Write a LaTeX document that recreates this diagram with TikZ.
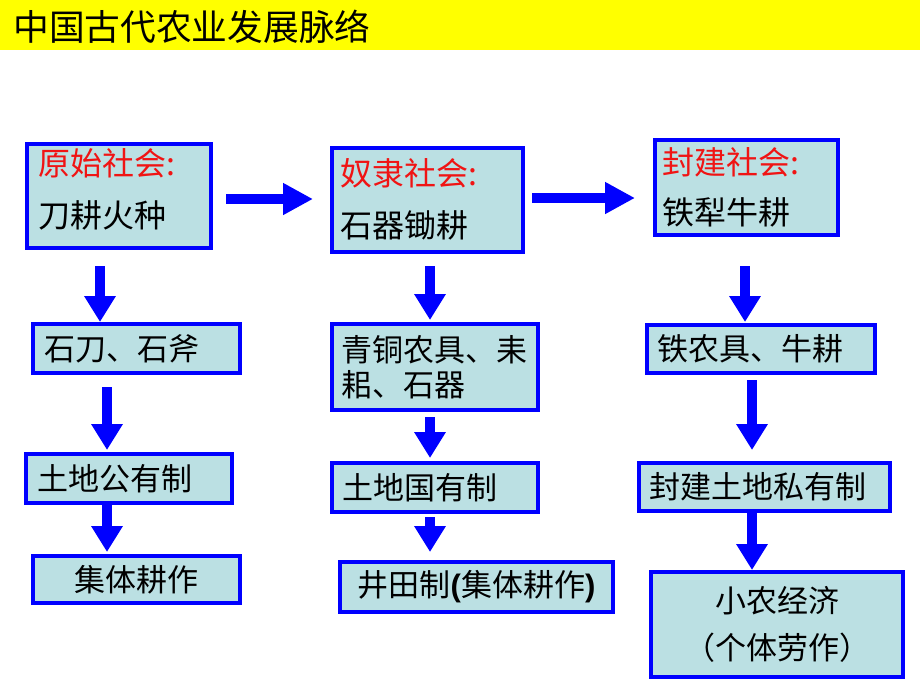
\documentclass[tikz,border=0pt]{standalone}
\usepackage{fontspec}
\setmainfont{Noto Sans CJK SC}
\newfontfamily\lat{Liberation Sans}
\usetikzlibrary{arrows.meta}
\definecolor{bblue}{RGB}{0,0,255}
\definecolor{bfill}{RGB}{187,224,227}
\definecolor{tred}{RGB}{240,20,20}
\definecolor{tyellow}{RGB}{255,255,0}
\tikzset{
  box/.style={draw=bblue, line width=3pt, fill=bfill, rectangle, anchor=north west,
    inner ysep=0pt, align=left, font=\fontsize{23.25pt}{28pt}\selectfont},
  topbox/.style={draw=bblue, line width=3pt, fill=bfill, rectangle, anchor=north west, inner sep=0pt},
  toptext/.style={anchor=west, inner sep=0pt, align=left, font=\fontsize{24pt}{39pt}\selectfont},
  cbox/.style={box, align=center},
  harrow/.style={draw=bblue, line width=7.5pt, -{Triangle[width=22.5pt,length=22.5pt]}},
  varrow/.style={draw=bblue, line width=7.5pt, -{Triangle[width=22.5pt,length=19.5pt]}},
  titletext/.style={anchor=west, inner sep=0pt, font=\fontsize{26.8pt}{30pt}\selectfont}
}
\begin{document}
\begin{tikzpicture}[x=0.75pt,y=-0.75pt]
\useasboundingbox (0,0) rectangle (920,690);
\fill[white] (0,0) rectangle (920,690);
\fill[tyellow] (0,0) rectangle (920,50);
\node[titletext] (title) at (13,27) {中国古代农业发展脉络};

% top row
\node[topbox, minimum width=138pt, minimum height=78pt] (b1) at (25,142) {};
\node[toptext] (b1t) at (38,189) {{\color{tred}原始社会:}\\刀耕火种};
\node[topbox, minimum width=143.25pt, minimum height=78pt] (b2) at (330,146) {};
\node[toptext] (b2t) at (340,199) {{\color{tred}奴隶社会:}\\石器锄耕};
\node[topbox, minimum width=137.25pt, minimum height=71.25pt] (b3) at (653,138) {};
\node[toptext, font=\fontsize{24pt}{37.5pt}\selectfont] (b3t) at (662,187) {{\color{tred}封建社会:}\\铁犁牛耕};

% column 1
\node[box, minimum width=155.25pt, minimum height=36.75pt, text width=138.75pt, inner xsep=8.25pt] (c1) at (31,322) {石刀、石斧};
\node[box, minimum width=154.5pt, minimum height=36.75pt, text width=138pt, inner xsep=8.25pt] (c2) at (24,452) {土地公有制};
\node[cbox, minimum width=155.25pt, minimum height=35.25pt, text width=138.75pt, inner xsep=8.25pt] (c3) at (31,554) {集体耕作};

% column 2
\node[box, font=\fontsize{23.25pt}{26.25pt}\selectfont, minimum width=154.5pt, minimum height=64.5pt, text width=140.5pt, inner xsep=7pt] (d1) at (330,322) {青铜农具、耒\\耜、石器};
\node[box, minimum width=154.5pt, minimum height=36.75pt, text width=139.5pt, inner xsep=7.5pt] (d2) at (330,461) {土地国有制};
\node[cbox, minimum width=204.75pt, minimum height=37.5pt, text width=189.75pt, inner xsep=7.5pt] (d3) at (338,560) {井田制{\lat\bfseries (}集体耕作{\lat\bfseries )}};

% column 3
\node[box, minimum width=171pt, minimum height=36pt, text width=156pt, inner xsep=7.5pt] (e1) at (645,323) {铁农具、牛耕};
\node[box, minimum width=188.25pt, minimum height=36pt, text width=173.25pt, inner xsep=7.5pt] (e2) at (637,461) {封建土地私有制};
\node[cbox, font=\fontsize{23.25pt}{35.25pt}\selectfont, minimum width=189pt, minimum height=78.75pt, text width=174pt, inner xsep=7.5pt] (e3) at (649,570) {小农经济\\（个体劳作）};

% connector guides
\coordinate (h1) at (0,199);
\coordinate (h2) at (0,198);
\coordinate (v1) at (100,0);
\coordinate (v1b) at (107,0);
\coordinate (v2) at (430,0);
\coordinate (v3) at (745,0);
\coordinate (v3b) at (752,0);

% horizontal arrows
\draw[harrow, shorten <=9.75pt, shorten >=12.75pt] (b1.east |- h1) -- (b2.west |- h1);
\draw[harrow, shorten <=5.25pt, shorten >=13.5pt] (b2.east |- h2) -- (b3.west |- h2);

% vertical arrows
\draw[varrow, shorten <=12pt] (b1.south -| v1) -- (c1.north -| v1);
\draw[varrow, shorten <=9pt, shorten >=1.5pt] (c1.south -| v1b) -- (c2.north -| v1b);
\draw[varrow, shorten <=-2.25pt, shorten >=1.5pt] (c2.south -| v1b) -- (c3.north -| v1b);

\draw[varrow, shorten <=9pt, shorten >=1.5pt] (b2.south -| v2) -- (d1.north -| v2);
\draw[varrow, shorten <=3.75pt, shorten >=2.25pt] (d1.south -| v2) -- (d2.north -| v2);
\draw[varrow, shorten <=2.25pt, shorten >=6pt] (d2.south -| v2) -- (d3.north -| v2);

\draw[varrow, shorten <=21.75pt, shorten >=0.75pt] (b3.south -| v3) -- (e1.north -| v3);
\draw[varrow, shorten <=3.75pt, shorten >=8.25pt] (e1.south -| v3b) -- (e2.north -| v3b);
\draw[varrow, shorten <=-1.5pt] (e2.south -| v3b) -- (e3.north -| v3b);
\end{tikzpicture}
\end{document}
